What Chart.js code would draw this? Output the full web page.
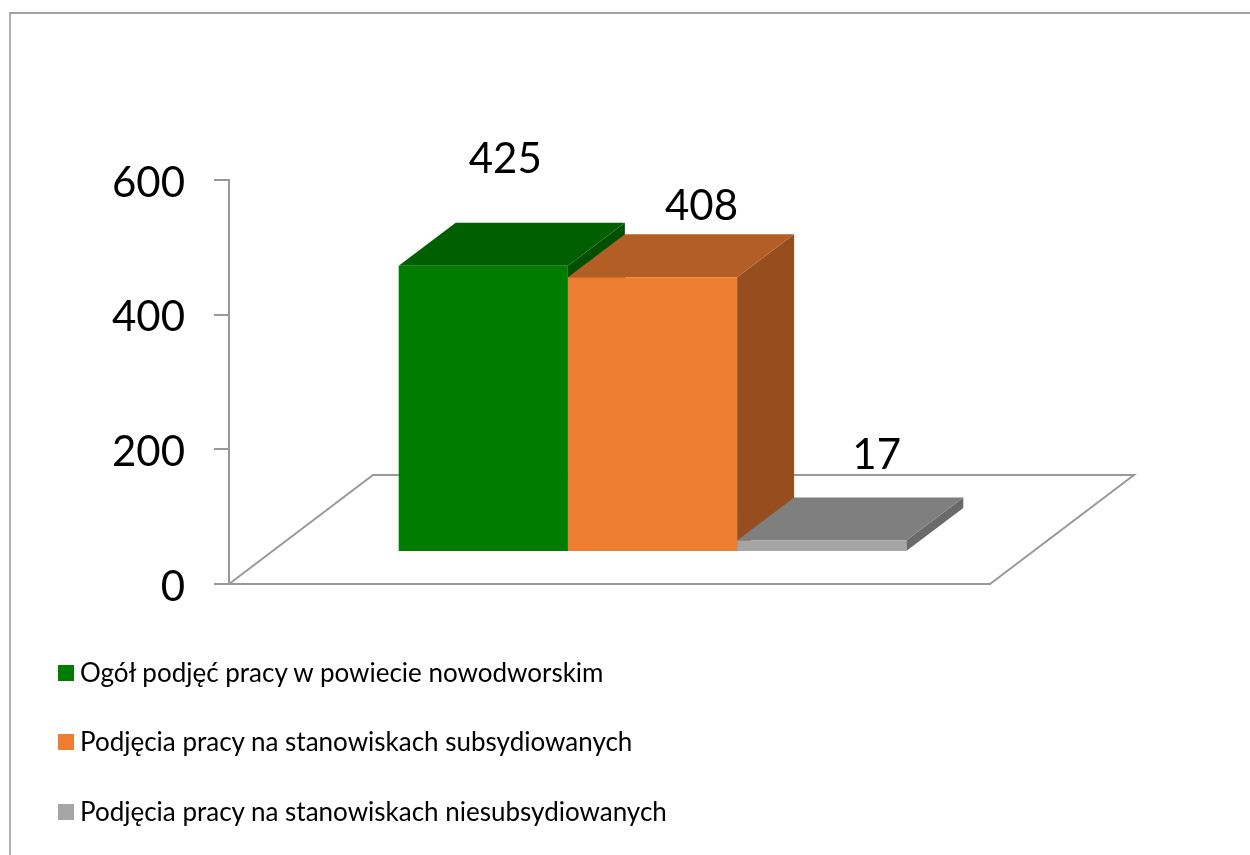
<!DOCTYPE html>
<html lang="pl">

<head>
    <meta charset="UTF-8">
    <title>Podjęcia pracy</title>
    <script src="https://cdn.jsdelivr.net/npm/chart.js"></script>
    <style>
        * {
            margin: 0;
            padding: 0;
            box-sizing: border-box;
        }

        body {
            width: 1250px;
            height: 855px;
            background: white;
            overflow: hidden;
            font-family: Lato, sans-serif;
        }

        canvas {
            position: absolute;
            top: 0;
            left: 0;
        }

        .frame {
            position: absolute;
            top: 12px;
            left: 9px;
            width: 1241px;
            height: 843px;
            border-top: 2px solid #a0a0a0;
            border-left: 2px solid #b0b0b0;
        }

        .legend {
            position: absolute;
            left: 58px;
            top: 654px;
            color: black;
            font-size: 26px;
            list-style: none;
        }

        .legend li {
            display: flex;
            align-items: center;
            height: 35px;
            margin-bottom: 34.5px;
            white-space: nowrap;
        }

        .legend span {
            width: 16px;
            height: 16px;
            margin-right: 6px;
            position: relative;
            top: 1px;
        }
    </style>
</head>

<body>

    <div class="frame"></div>
    <canvas id="chart" width="1250" height="855"></canvas>
    <ul class="legend" id="legend"></ul>

    <script>
        const categories = [''];
        const seriesNames = [
            'Ogół podjęć pracy w powiecie nowodworskim',
            'Podjęcia pracy na stanowiskach subsydiowanych',
            'Podjęcia pracy na stanowiskach niesubsydiowanych'
        ];
        const seriesValues = [425, 408, 17];
        const tickValues = [0, 200, 400, 600];

        const frontColors = ['#007d00', '#ed7d31', '#a5a5a5'];
        const topColors = ['#005f00', '#b25e25', '#7f7f7f'];
        const sideColors = ['#005000', '#964e1e', '#6a6a6a'];

        const lineColor = '#999999';
        const labelFont = '42px Lato';

        // fake 3D: floor depth, bar depth and how far the bars stand in from the front edge
        const floorDepth = { x: 144, y: -109 };
        const barDepth = { x: 57, y: -43 };
        const barShift = { x: 43, y: -32 };

        // value labels sit at odd places in the original, relative to the bar's top centre
        const labelOffsets = [[22, -106], [49, -71], [55, -85]];

        function poly(ctx, color, pts) {
            ctx.fillStyle = color;
            ctx.beginPath();
            ctx.moveTo(pts[0][0], pts[0][1]);
            for (let i = 1; i < pts.length; i++) ctx.lineTo(pts[i][0], pts[i][1]);
            ctx.closePath();
            ctx.fill();
        }

        const fake3d = {
            id: 'fake3d',
            beforeDatasetsDraw(chart) {
                // floor outline, back and side edges only, the front edge is the x axis
                const { ctx, chartArea: a } = chart;
                ctx.save();
                ctx.strokeStyle = lineColor;
                ctx.lineWidth = 2;
                ctx.beginPath();
                ctx.moveTo(a.left, a.bottom);
                ctx.lineTo(a.left + floorDepth.x, a.bottom + floorDepth.y);
                ctx.lineTo(a.right + floorDepth.x, a.bottom + floorDepth.y);
                ctx.lineTo(a.right, a.bottom);
                ctx.stroke();

                // tops and sides go left to right, the library paints the fronts over them
                ctx.translate(barShift.x, barShift.y);
                seriesValues.forEach((v, i) => {
                    const bar = chart.getDatasetMeta(i).data[0];
                    const l = bar.x - bar.width / 2;
                    const r = bar.x + bar.width / 2;
                    const t = bar.y;
                    const b = bar.base;
                    poly(ctx, sideColors[i], [[r, t], [r + barDepth.x, t + barDepth.y], [r + barDepth.x, b + barDepth.y], [r, b]]);
                    poly(ctx, topColors[i], [[l, t], [l + barDepth.x, t + barDepth.y], [r + barDepth.x, t + barDepth.y], [r, t]]);
                });
                ctx.restore();
            },
            beforeDatasetDraw(chart) {
                chart.ctx.save();
                chart.ctx.translate(barShift.x, barShift.y);
            },
            afterDatasetDraw(chart) {
                chart.ctx.restore();
            },
            afterDraw(chart) {
                const ctx = chart.ctx;
                ctx.save();
                ctx.fillStyle = 'black';
                ctx.font = labelFont;
                ctx.textAlign = 'center';
                ctx.textBaseline = 'middle';
                seriesValues.forEach((v, i) => {
                    const bar = chart.getDatasetMeta(i).data[0];
                    ctx.fillText(v, bar.x + barShift.x + labelOffsets[i][0], bar.y + barShift.y + labelOffsets[i][1]);
                });
                ctx.restore();
            }
        };

        new Chart(document.getElementById('chart'), {
            type: 'bar',
            data: {
                labels: categories,
                datasets: seriesValues.map((v, i) => ({
                    label: seriesNames[i],
                    data: [v],
                    backgroundColor: frontColors[i],
                    categoryPercentage: 0.667,
                    barPercentage: 1,
                    clip: false
                }))
            },
            options: {
                responsive: false,
                animation: false,
                layout: { padding: { top: 180, right: 260, bottom: 263, left: 0 } },
                plugins: { legend: { display: false }, tooltip: { enabled: false } },
                scales: {
                    x: {
                        ticks: { display: false },
                        grid: { display: false },
                        border: { color: lineColor, width: 2 }
                    },
                    y: {
                        min: 0,
                        max: 600,
                        afterBuildTicks(axis) {
                            axis.ticks = tickValues.map(v => ({ value: v }));
                        },
                        afterFit(axis) {
                            axis.width = 229;
                        },
                        ticks: { color: 'black', font: { family: 'Lato', size: 42 }, padding: 29, labelOffset: 3 },
                        grid: { drawOnChartArea: false, drawTicks: true, tickLength: 15, color: lineColor, lineWidth: 2 },
                        border: { color: lineColor, width: 2 }
                    }
                }
            },
            plugins: [fake3d]
        });

        // legend in one column like the original
        document.getElementById('legend').innerHTML = seriesNames
            .map((name, i) => `<li><span style="background:${frontColors[i]}"></span>${name}</li>`)
            .join('');
    </script>

</body>

</html>
